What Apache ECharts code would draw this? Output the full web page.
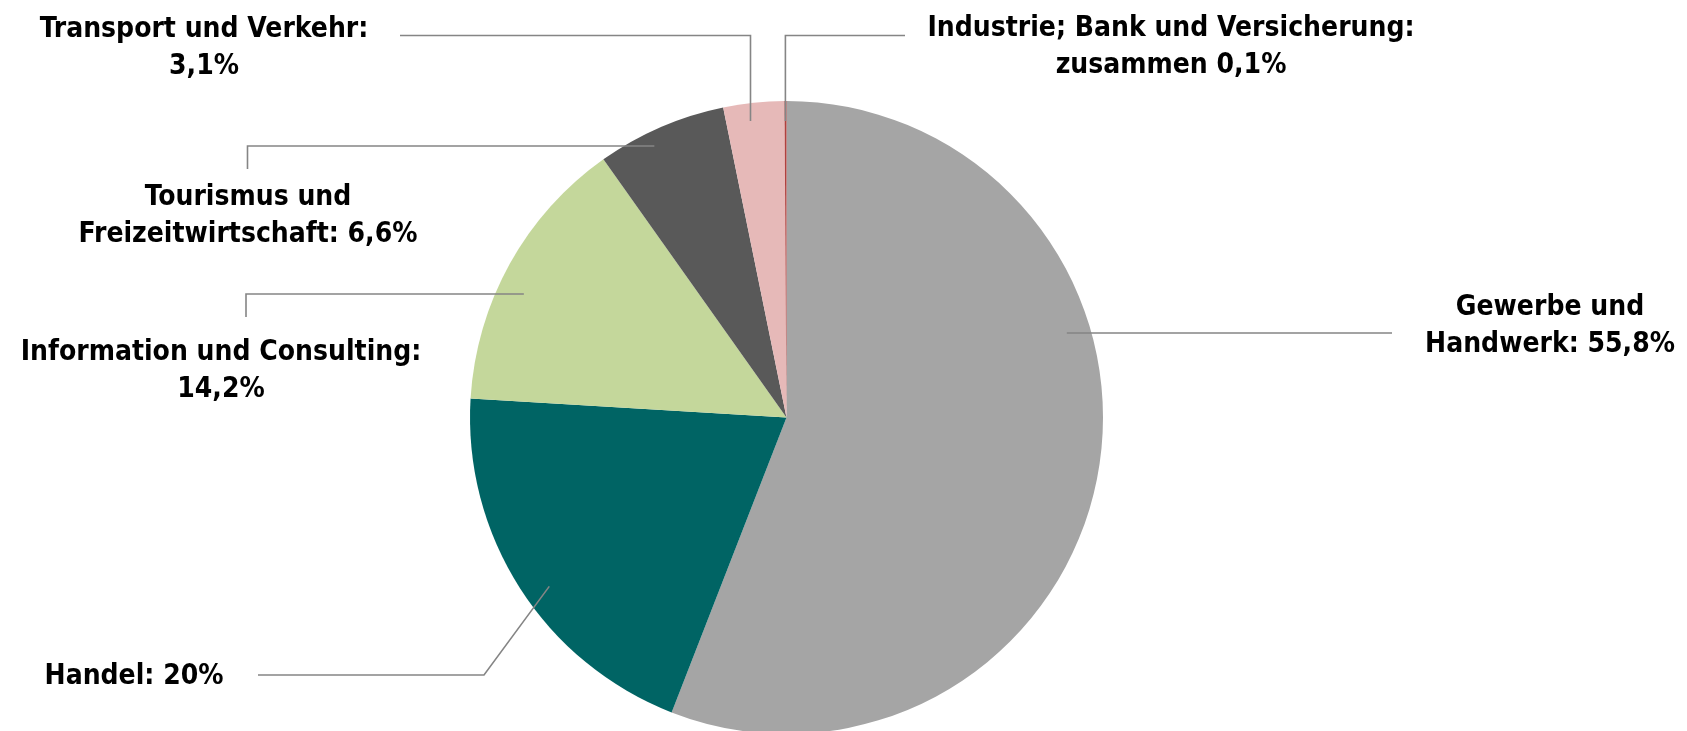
<!DOCTYPE html>
<html>
<head>
<meta charset="utf-8">
<script src="https://cdn.jsdelivr.net/npm/echarts@6/dist/echarts.min.js"></script>
<style>
  html, body { margin: 0; padding: 0; background: #ffffff; }
  #chart { width: 1687px; height: 731px; }
</style>
</head>
<body>
<div id="chart"></div>
<script>
// ---- data ----
var categories = [
  'Gewerbe und Handwerk',
  'Handel',
  'Information und Consulting',
  'Tourismus und Freizeitwirtschaft',
  'Transport und Verkehr',
  'Industrie; Bank und Versicherung'
];
var shares = [55.8, 20, 14.2, 6.6, 3.1, 0.1];
var labelTemplates = [
  'Gewerbe und\nHandwerk: {v}',
  'Handel: {v}',
  'Information und Consulting:\n{v}',
  'Tourismus und\nFreizeitwirtschaft: {v}',
  'Transport und Verkehr:\n{v}',
  'Industrie; Bank und Versicherung:\nzusammen {v}'
];
var colors = ['#A5A5A5', '#006464', '#C4D79B', '#595959', '#E6B9B8', '#B0413E'];

// ---- layout (positions only) ----
var CX = 786.5, CY = 417.5, R = 316.5;
// mode: 'h' = leader starts level with first bend, 'v' = starts straight below first bend, 'mid' = near slice mid-angle
var labelLayoutCfg = [
  { x: 1550, y: 326, mode: 'h',   frac: 0.925, path: [[1392, 333]] },
  { x: 134,  y: 677, mode: 'mid', frac: 0.92, shift: -2.8, path: [[484, 675], [258, 675]] },
  { x: 221,  y: 371, mode: 'h',   frac: 0.917, path: [[246, 294], [246, 317]] },
  { x: 248,  y: 216, mode: 'h',   frac: 0.954, path: [[247.5, 146], [247.5, 169]] },
  { x: 204,  y: 48,  mode: 'v',   frac: 0.944, path: [[750.5, 35.5], [400, 35.5]] },
  { x: 1171, y: 47,  mode: 'v',   frac: 0.937, path: [[785.4, 35.5], [905, 35.5]] }
];

function fmt(v) {
  return String(v).replace('.', ',') + '%';
}

var total = shares.reduce(function (a, b) { return a + b; }, 0);
var midAngles = [];
(function () {
  var acc = 0;
  for (var i = 0; i < shares.length; i++) {
    midAngles.push((acc + shares[i] / 2) / total * Math.PI * 2);
    acc += shares[i];
  }
})();

var chart = echarts.init(document.getElementById('chart'), null, { renderer: 'canvas' });

var pieData = categories.map(function (c, i) {
  return { name: c, value: shares[i], itemStyle: { color: colors[i] } };
});
var labelData = categories.map(function (c, i) {
  return { name: c, value: shares[i] };
});

var option = {
  backgroundColor: '#ffffff',
  animation: false,
  series: [{
    // coloured slices
    type: 'pie',
    z: 2,
    center: [CX, CY],
    radius: [0, R],
    startAngle: 90,
    clockwise: true,
    silent: true,
    emphasis: { disabled: true },
    itemStyle: { borderWidth: 0 },
    label: { show: false },
    labelLine: { show: false },
    data: pieData
  }, {
    // same slices, transparent, carrying labels and leader lines on top
    type: 'pie',
    z: 5,
    center: [CX, CY],
    radius: [0, R],
    startAngle: 90,
    clockwise: true,
    silent: true,
    avoidLabelOverlap: false,
    emphasis: { disabled: true },
    itemStyle: { color: 'rgba(0,0,0,0)', borderWidth: 0 },
    data: labelData,
    label: {
      show: true,
      position: 'outside',
      fontFamily: '"DejaVu Sans Condensed", "DejaVu Sans", sans-serif',
      fontWeight: 'bold',
      fontSize: 28,
      lineHeight: 37,
      color: '#000000',
      align: 'center',
      formatter: function (p) {
        return labelTemplates[p.dataIndex].replace('{v}', fmt(shares[p.dataIndex]));
      }
    },
    labelLine: {
      show: true,
      smooth: false,
      lineStyle: { color: '#858585', width: 1.6 }
    },
    labelLayout: function (params) {
      var i = params.dataIndex;
      var cfg = labelLayoutCfg[i];
      var a = midAngles[i] + (cfg.shift || 0) * Math.PI / 180;
      var rr = R * cfg.frac;
      var start;
      var p0 = cfg.path[0];
      if (cfg.mode === 'h') {
        var dy = p0[1] - CY;
        var dx = Math.sqrt(Math.max(rr * rr - dy * dy, 0));
        start = [p0[0] > CX ? CX + dx : CX - dx, p0[1]];
      } else if (cfg.mode === 'v') {
        var ddx = p0[0] - CX;
        var ddy = Math.sqrt(Math.max(rr * rr - ddx * ddx, 0));
        start = [p0[0], p0[1] < CY ? CY - ddy : CY + ddy];
      } else {
        start = [CX + rr * Math.sin(a), CY - rr * Math.cos(a)];
      }
      var pts = [start].concat(cfg.path.map(function (p) { return [p[0], p[1]]; }));
      return {
        x: cfg.x,
        y: cfg.y,
        align: 'center',
        verticalAlign: 'middle',
        labelLinePoints: pts
      };
    }
  }]
};

chart.setOption(option);
</script>
</body>
</html>
